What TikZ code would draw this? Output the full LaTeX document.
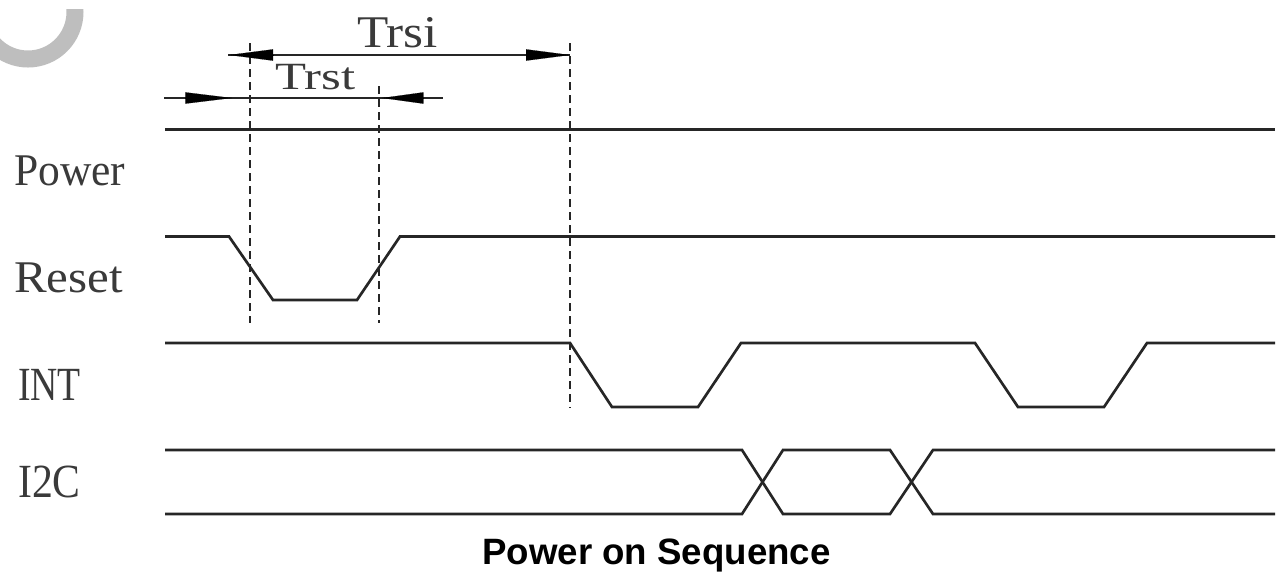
\documentclass[tikz,border=0pt]{standalone}
\usepackage{fontspec}
\setmainfont{Liberation Serif}
\newfontfamily\titlefont{Liberation Sans}
\usetikzlibrary{arrows.meta}
\definecolor{ink}{HTML}{262626}
\definecolor{txt}{HTML}{3A3A3A}
\definecolor{ring}{HTML}{BEBEBE}
\tikzset{
  sig/.style={draw=ink,line width=2pt,line join=miter},
  dash line/.style={draw=ink,line width=2.2pt,dash pattern=on 6pt off 3.75pt},
  dim/.style={draw=ink,line width=2pt},
  headtip/.style={draw=black,line width=0.1pt,-{Triangle[length=#1,width=8.5pt,fill=black]}},
  lbl/.style={text=txt,inner sep=0pt,font=\fontsize{34}{34}\selectfont,anchor=base west,transform shape},
}
\begin{document}
\begin{tikzpicture}[x=0.75pt,y=-0.75pt]
\useasboundingbox (0,0) rectangle (1277,572);
\fill[white] (0,0) rectangle (1277,572);
% grey ring fragment
\begin{scope}
\clip (0,9) rectangle (120,100);
\draw[ring,line width=12.75pt] (28,12) circle[radius=47];
\end{scope}
% signals
\coordinate (p0) at (165,129.5); \coordinate (p1) at (1275,129.5);
\draw[sig] (p0) -- (p1);
\coordinate (r0) at (165,236.5); \coordinate (r1) at (229,236.5); \coordinate (r2) at (273,300);
\coordinate (r3) at (357,300); \coordinate (r4) at (400,236.5); \coordinate (r5) at (1275,236.5);
\draw[sig] (r0) -- (r1) -- (r2) -- (r3) -- (r4) -- (r5);
\coordinate (i0) at (165,343); \coordinate (i1) at (570,343); \coordinate (i2) at (612,407);
\coordinate (i3) at (698,407); \coordinate (i4) at (741,343); \coordinate (i5) at (975,343);
\coordinate (i6) at (1018,407); \coordinate (i7) at (1104,407); \coordinate (i8) at (1147,343);
\coordinate (i9) at (1275,343);
\draw[sig] (i0) -- (i1) -- (i2) -- (i3) -- (i4) -- (i5) -- (i6) -- (i7) -- (i8) -- (i9);
\coordinate (a0) at (165,450); \coordinate (a1) at (742,450); \coordinate (a2) at (783,514);
\coordinate (a3) at (890,514); \coordinate (a4) at (933,450); \coordinate (a5) at (1275,450);
\draw[sig] (a0) -- (a1) -- (a2) -- (a3) -- (a4) -- (a5);
\coordinate (b0) at (165,514); \coordinate (b1) at (742,514); \coordinate (b2) at (783,450);
\coordinate (b3) at (890,450); \coordinate (b4) at (933,514); \coordinate (b5) at (1275,514);
\draw[sig] (b0) -- (b1) -- (b2) -- (b3) -- (b4) -- (b5);
% dashed guides
\coordinate (d1t) at (250,43); \coordinate (d1b) at (250,323);
\coordinate (d2t) at (379,86); \coordinate (d2b) at (379,323);
\coordinate (d3t) at (570,43); \coordinate (d3b) at (570,408);
\draw[dash line] (d1t) -- (d1b);
\draw[dash line] (d2t) -- (d2b);
\draw[dash line] (d3t) -- (d3b);
% dimension lines
\coordinate (s0) at (228,55); \coordinate (s1) at (570,55);
\coordinate (s0b) at (273,55); \coordinate (s1b) at (526,55); \coordinate (s0t) at (229,55);
\draw[dim] (s0) -- (s1);
\draw[headtip=33pt] (s0b) -- (s0t);
\draw[headtip=33pt] (s1b) -- (s1);
\coordinate (t0) at (164,98); \coordinate (t1) at (443,98);
\coordinate (t0b) at (185,98); \coordinate (t0t) at (232,98);
\coordinate (t1b) at (423,98); \coordinate (t1t) at (382,98);
\draw[dim] (t0) -- (t1);
\draw[headtip=35pt] (t0b) -- (t0t);
\draw[headtip=31pt] (t1b) -- (t1t);
% labels
\node[lbl,xscale=1.13] (trsi) at (357,47) {Trsi};
\node[lbl,xscale=1.12,yscale=0.85] (trst) at (275,89) {Trst};
\node[lbl,xscale=0.96] (power) at (14,185) {Power};
\node[lbl,xscale=1.08] (reset) at (14,292) {Reset};
\node[lbl,xscale=0.83,yscale=1.05] (int) at (18,400) {INT};
\node[lbl,xscale=0.92,yscale=1.05] (i2c) at (18,497) {I2C};
\node[inner sep=0pt,anchor=base west,text=black,font=\titlefont\bfseries\fontsize{27.5}{28}\selectfont] (title) at (482,564) {Power on Sequence};
\end{tikzpicture}
\end{document}
